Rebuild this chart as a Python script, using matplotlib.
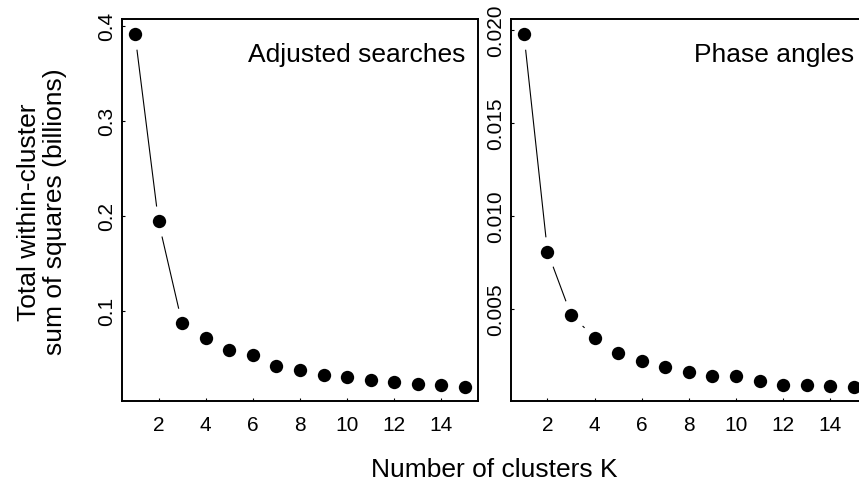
import matplotlib
matplotlib.use("Agg")
import matplotlib.pyplot as plt

plt.rcParams['font.family'] = ['Liberation Sans', 'DejaVu Sans']

k = list(range(1, 16))
adjusted = [0.3916, 0.194, 0.087, 0.0716, 0.0586, 0.0537, 0.0418, 0.0373,
            0.0330, 0.0302, 0.0271, 0.0249, 0.0232, 0.0221, 0.0204]
phase = [0.0198, 0.00807, 0.00466, 0.00344, 0.00261, 0.00217, 0.00184, 0.00157,
         0.00137, 0.00137, 0.00109, 0.00090, 0.00090, 0.00083, 0.00080]
titles = ["Adjusted searches", "Phase angles"]
yticks_adj = [0.1, 0.2, 0.3, 0.4]
yticks_phase = [0.005, 0.010, 0.015, 0.020]
xticks = [2, 4, 6, 8, 10, 12, 14]


def r_limits(vals):
    lo, hi = min(vals), max(vals)
    pad = 0.04 * (hi - lo)
    return lo - pad, hi + pad


def elbow_panel(ax, vals, title, yticks, fmt):
    # type="b" look: line, white masks to open gaps, then the dots
    ax.plot(k, vals, color='black', lw=0.8, zorder=1)
    ax.plot(k, vals, 'o', ms=22, color='white', mec='none', zorder=1.2)
    ax.plot(k, vals, 'o', ms=9.6, color='black', mec='none', zorder=3)
    ax.set_xlim(r_limits(k))
    ax.set_ylim(r_limits(vals))
    ax.set_xticks(xticks)
    ax.set_yticks(yticks)
    ax.set_yticklabels([fmt.format(v) for v in yticks])
    ax.tick_params(direction='in', length=2.2, width=0.8, labelsize=15)
    ax.tick_params(axis='x', pad=10)
    ax.tick_params(axis='y', pad=4, labelrotation=90)
    for lab in ax.get_yticklabels():
        lab.set_va('center')
    for s in ax.spines.values():
        s.set_linewidth(1.4)
    ax.text(1 - 13 / 357, 0.891, title, transform=ax.transAxes,
            ha='right', va='baseline', fontsize=19)


fig = plt.figure(figsize=(8.59, 4.81), dpi=100)
ax1 = fig.add_axes([0.1417, 0.1649, 0.415, 0.7925])
ax2 = fig.add_axes([0.5945, 0.1649, 0.415, 0.7925])

elbow_panel(ax1, adjusted, titles[0], yticks_adj, "{:.1f}")
elbow_panel(ax2, phase, titles[1], yticks_phase, "{:.3f}")

fig.text(494 / 859, 4.3 / 481, "Number of clusters K", ha='center',
         va='baseline', fontsize=19)
fig.text(42 / 859, 1 - 212 / 481,
         "Total within-cluster\nsum of squares (billions)",
         rotation=90, ha='center', va='center', fontsize=19,
         multialignment='center', linespacing=1.15)

fig.savefig("out.png", dpi=100)
